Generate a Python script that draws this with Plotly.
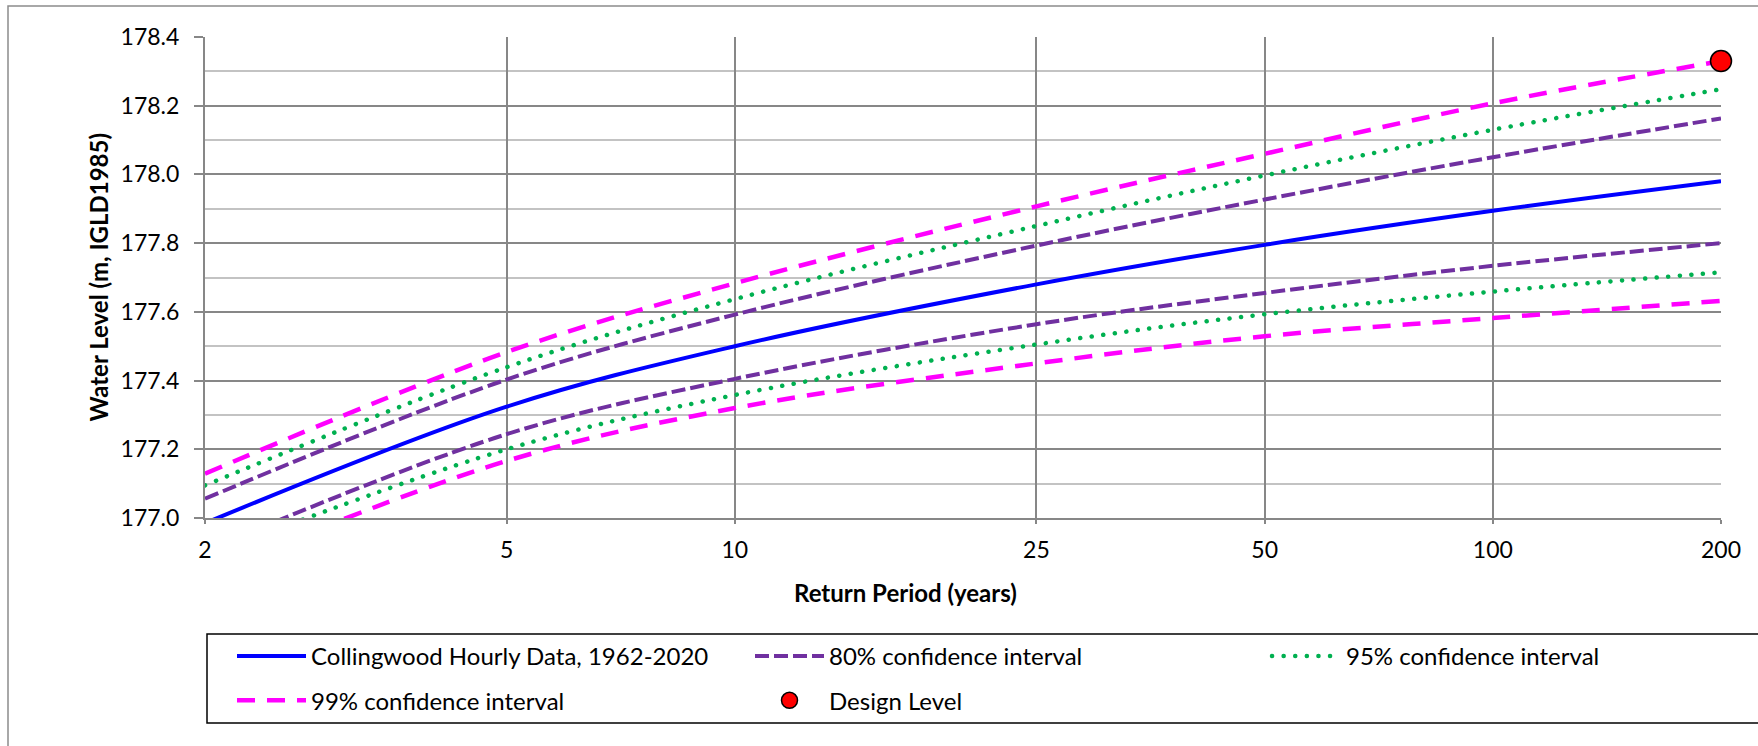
import math
import plotly.graph_objects as go

# ---------------- data ----------------
return_period = [2, 5, 10, 25, 50, 100, 200]
tick_labels = ["2", "5", "10", "25", "50", "100", "200"]

fitted = [176.985, 177.324, 177.500, 177.680, 177.795, 177.894, 177.980]
ci80_upper = [177.056, 177.403, 177.592, 177.793, 177.927, 178.050, 178.163]
ci80_lower = [176.904, 177.244, 177.405, 177.564, 177.655, 177.734, 177.800]
ci95_upper = [177.095, 177.439, 177.637, 177.850, 177.997, 178.130, 178.248]
ci95_lower = [176.888, 177.200, 177.358, 177.505, 177.593, 177.659, 177.715]
ci99_upper = [177.129, 177.483, 177.683, 177.907, 178.060, 178.207, 178.330]
ci99_lower = [176.835, 177.166, 177.320, 177.450, 177.529, 177.582, 177.632]

design_rp = [200]
design_level = [178.33]

y_ticks = [177.0, 177.2, 177.4, 177.6, 177.8, 178.0, 178.2, 178.4]

# ---------------- geometry ----------------
W, H = 1758, 746
L, R, T, B = 205, 37, 37, 228
PW, PH = W - L - R, H - T - B


def px_x(p):
    return (p - L) / PW


def px_y(p):
    return 1 - (p - T) / PH


FONT = "Lato"
GRID = "#878787"
MINOR = "#C3C3C3"


def band(lower, upper):
    xs = return_period + [None] + return_period
    ys = upper + [None] + lower
    return xs, ys


fig = go.Figure()

fig.add_trace(go.Scatter(
    x=return_period, y=fitted, mode="lines", line_shape="spline",
    name="Collingwood Hourly Data, 1962-2020",
    line=dict(color="#0000FF", width=4),
    legend="legend", legendgroup="g1"))

x80, y80 = band(ci80_lower, ci80_upper)
fig.add_trace(go.Scatter(
    x=x80, y=y80, mode="lines", line_shape="spline", connectgaps=False,
    name="80% confidence interval",
    line=dict(color="#7030A0", width=4, dash="14px,5px"),
    legend="legend2", legendgroup="g2"))

x95, y95 = band(ci95_lower, ci95_upper)
fig.add_trace(go.Scatter(
    x=x95, y=y95, mode="lines", line_shape="spline", connectgaps=False,
    name="95% confidence interval",
    line=dict(color="#00B050", width=4.5, dash="4.5px,7px"),
    legend="legend3", legendgroup="g3"))

x99, y99 = band(ci99_lower, ci99_upper)
fig.add_trace(go.Scatter(
    x=x99, y=y99, mode="lines", line_shape="spline", connectgaps=False,
    name="99% confidence interval",
    line=dict(color="#FF00FF", width=4.5, dash="18px,12px"),
    legend="legend", legendgroup="g4"))

fig.add_trace(go.Scatter(
    x=design_rp, y=design_level, mode="markers", name="Design Level",
    marker=dict(color="#FF0000", size=21, line=dict(color="#000000", width=1.5)),
    cliponaxis=False, legend="legend2", legendgroup="g5"))

legend_common = dict(
    orientation="v", xanchor="left", yanchor="top",
    y=px_y(634), bgcolor="rgba(0,0,0,0)", borderwidth=0,
    font=dict(family=FONT, size=24, color="#000000"),
    itemwidth=69, traceorder="grouped", tracegroupgap=10,
    itemclick=False, itemdoubleclick=False,
)

fig.update_layout(
    width=W, height=H,
    margin=dict(l=L, r=R, t=T, b=B, autoexpand=False),
    paper_bgcolor="#FFFFFF", plot_bgcolor="#FFFFFF",
    font=dict(family=FONT, color="#000000"),
    showlegend=True,
    legend=dict(x=px_x(232), **legend_common),
    legend2=dict(x=px_x(750), **legend_common),
    legend3=dict(x=px_x(1267), **legend_common),
    xaxis=dict(
        type="log", range=[math.log10(return_period[0]), math.log10(return_period[-1])],
        tickmode="array", tickvals=return_period, ticktext=tick_labels,
        showgrid=True, gridcolor=GRID, gridwidth=2,
        showline=True, linecolor=GRID, linewidth=2,
        ticks="outside", ticklen=4, tickcolor=GRID, tickwidth=2,
        tickfont=dict(family=FONT, size=23, color="#000000"),
        ticklabelstandoff=6,
        zeroline=False,
    ),
    yaxis=dict(
        range=[177.0, 178.4], tickmode="array", tickvals=y_ticks,
        tickformat=".1f",
        showgrid=True, gridcolor=GRID, gridwidth=2,
        minor=dict(dtick=0.1, tick0=177.0, showgrid=True, gridcolor=MINOR, gridwidth=2, ticks=""),
        showline=True, linecolor=GRID, linewidth=2,
        ticks="outside", ticklen=9, tickcolor=GRID, tickwidth=2,
        tickfont=dict(family=FONT, size=23, color="#000000"),
        ticklabelstandoff=10,
        zeroline=False,
    ),
    shapes=[
        # outer chart frame
        dict(type="rect", xref="paper", yref="paper",
             x0=px_x(8), x1=px_x(1800), y0=px_y(800), y1=px_y(6),
             line=dict(color="#8C8C8C", width=1.5), fillcolor="rgba(0,0,0,0)", layer="below"),
        # legend frame
        dict(type="rect", xref="paper", yref="paper",
             x0=px_x(207), x1=px_x(1800), y0=px_y(723), y1=px_y(634),
             line=dict(color="#000000", width=1.5), fillcolor="rgba(0,0,0,0)", layer="above"),
    ],
    annotations=[
        dict(text="<b>Return Period (years)</b>", xref="paper", yref="paper",
             x=px_x(905), y=px_y(592), xanchor="center", yanchor="middle",
             showarrow=False, font=dict(family=FONT, size=24, color="#000000")),
        dict(text="<b>Water Level (m, IGLD1985)</b>", xref="paper", yref="paper",
             x=px_x(98), y=0.5, xanchor="center", yanchor="middle", textangle=-90,
             showarrow=False, font=dict(family=FONT, size=24, color="#000000")),
    ],
)

post = """
document.body.style.margin = '0';
document.body.style.overflow = 'hidden';
var gd = document.getElementById('{plot_id}');
gd.querySelectorAll('path').forEach(function(p){
  var s = p.style.stroke || '';
  if (s.replace(/\\s/g,'') === 'rgb(0,176,80)') {
    p.style.strokeLinecap = 'round';
    p.style.strokeDasharray = '0.1px,11.5px';
  }
});
"""

fig.write_html("out.html", post_script=post,
               config={"displayModeBar": False, "staticPlot": True})
